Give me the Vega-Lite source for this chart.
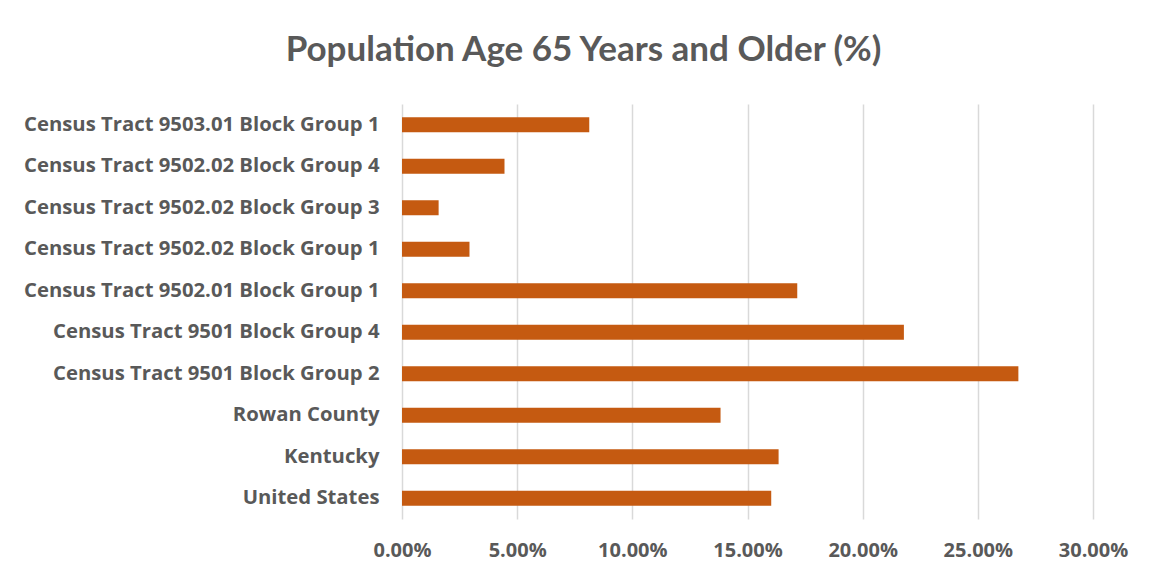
{
  "$schema": "https://vega.github.io/schema/vega-lite/v6.json",
  "autosize": {"type": "none"},
  "padding": {"left": 402, "top": 104, "right": 60, "bottom": 58},
  "width": 691,
  "height": 415,
  "background": "white",
  "title": {
    "text": "Population Age 65 Years and Older (%)",
    "anchor": "middle",
    "frame": "group",
    "dx": -164,
    "offset": 8,
    "baseline": "alphabetic",
    "font": "Lato",
    "fontSize": 35,
    "fontWeight": "bold",
    "color": "#595959"
  },
  "data": {
    "values": [
      {"area": "Census Tract 9503.01 Block Group 1", "pct": 0.0813},
      {"area": "Census Tract 9502.02 Block Group 4", "pct": 0.0445},
      {"area": "Census Tract 9502.02 Block Group 3", "pct": 0.0159},
      {"area": "Census Tract 9502.02 Block Group 1", "pct": 0.0293},
      {"area": "Census Tract 9502.01 Block Group 1", "pct": 0.1716},
      {"area": "Census Tract 9501 Block Group 4", "pct": 0.2179},
      {"area": "Census Tract 9501 Block Group 2", "pct": 0.2676},
      {"area": "Rowan County ", "pct": 0.1383},
      {"area": "Kentucky", "pct": 0.1635},
      {"area": "United States", "pct": 0.1603}
    ]
  },
  "mark": {"type": "bar", "color": "#C55A11"},
  "encoding": {
    "y": {
      "field": "area",
      "type": "nominal",
      "sort": null,
      "scale": {"paddingInner": 0.64, "paddingOuter": 0.32},
      "axis": {
        "title": null,
        "ticks": false,
        "domain": false,
        "labelFont": "Open Sans",
        "labelFontSize": 20.3,
        "labelFontWeight": "bold",
        "labelColor": "#595959",
        "labelPadding": 23,
        "labelLimit": 500
      }
    },
    "x": {
      "field": "pct",
      "type": "quantitative",
      "scale": {"domain": [0, 0.3], "nice": false},
      "axis": {
        "title": null,
        "format": ".2%",
        "values": [0, 0.05, 0.1, 0.15, 0.2, 0.25, 0.3],
        "ticks": false,
        "domain": false,
        "grid": true,
        "gridColor": "#d9d9d9",
        "gridWidth": 1.5,
        "labelFlush": false,
        "labelFont": "Open Sans",
        "labelFontSize": 20,
        "labelFontWeight": "bold",
        "labelColor": "#595959",
        "labelPadding": 21
      }
    }
  },
  "config": {"view": {"stroke": null}}
}
